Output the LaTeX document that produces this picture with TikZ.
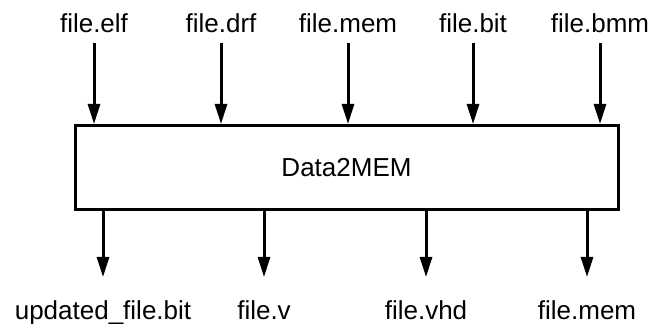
\documentclass[tikz,border=0pt]{standalone}
\usepackage{fontspec}
\setmainfont{Liberation Sans}
\usetikzlibrary{arrows.meta}
\begin{document}
\begin{tikzpicture}[x=0.5pt,y=-0.5pt,
  lbl/.style={inner sep=0pt,font=\fontsize{13}{15}\selectfont,anchor=base},
  blk/.style={draw,line width=1.5pt,minimum width=271.5pt,minimum height=42pt,inner sep=0pt,font=\fontsize{13}{15}\selectfont},
  arr/.style={line width=1.5pt,-{Triangle[length=10pt,width=6pt]}}]
\useasboundingbox (0,0) rectangle (651,324);
\node[blk] (box) at (346.5,167.5) {Data2MEM};
\node[lbl] (t1) at (94,33) {file.elf};
\node[lbl] (t2) at (221,33) {file.drf};
\node[lbl] (t3) at (348,33) {file.mem};
\node[lbl] (t4) at (473,33) {file.bit};
\node[lbl] (t5) at (600,33) {file.bmm};
\node[lbl] (b1) at (103,320) {updated\_file.bit};
\node[lbl] (b2) at (264,320) {file.v};
\node[lbl] (b3) at (426,320) {file.vhd};
\node[lbl] (b4) at (587,320) {file.mem};
\foreach \n in {t1,t2,t3,t4,t5}{
  \draw[arr] ([yshift=-5pt]\n.base) -- (\n.base |- box.north);
}
\foreach \n in {b1,b2,b3,b4}{
  \draw[arr] (\n.base |- box.south) -- ([yshift=21.5pt]\n.base);
}
\end{tikzpicture}
\end{document}
